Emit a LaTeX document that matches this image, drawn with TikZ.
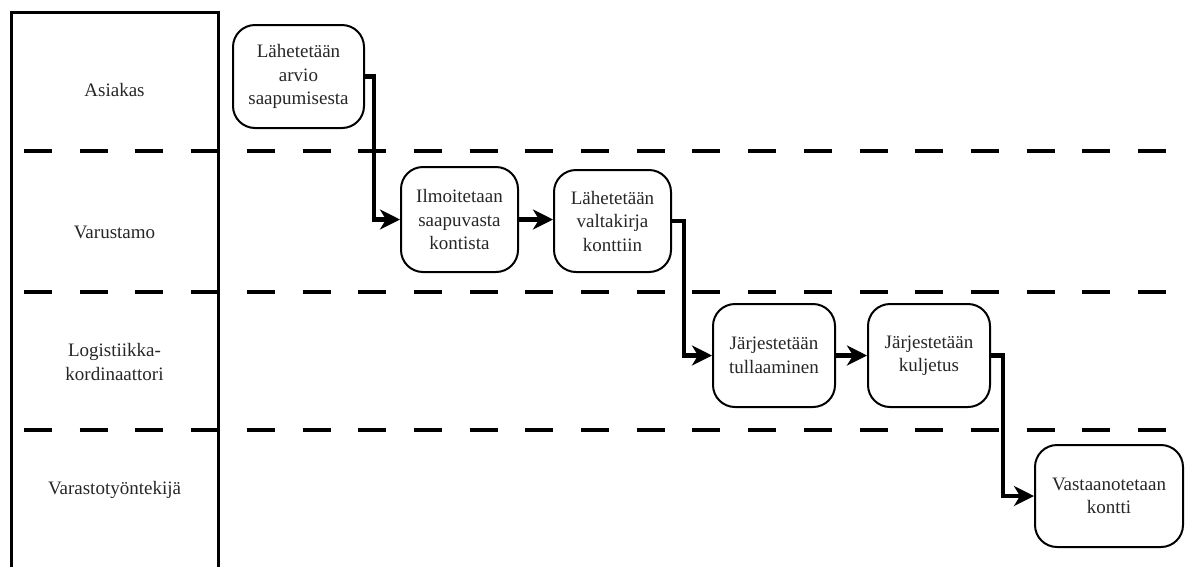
\documentclass[tikz,border=0pt]{standalone}
\usepackage{fontspec}
\setmainfont{Liberation Serif}
\newfontfamily\diagfont{Liberation Serif}
\usetikzlibrary{arrows.meta}
\begin{document}
\begin{tikzpicture}[x=1pt,y=-1pt,
  every node/.style={font=\diagfont\fontsize{19}{23.5}\selectfont, align=center, text=black!85},
  task/.style={draw, line width=2pt, rounded corners=22pt, inner sep=0pt},
  lane/.style={inner sep=0pt},
  divider/.style={line width=4pt, dash pattern=on 28pt off 27.7pt},
  flow/.style={line width=4.5pt, -{Stealth[length=20pt,width=20pt,inset=6pt]}}]
\useasboundingbox (0,0) rectangle (1186,566);

% lane header column, open at the bottom
\draw[line width=3pt] (11,570) -- (11,12) -- (218,12) -- (218,570);

% lane separators
\foreach \yy in {151,292,430}
  \draw[divider] (24,\yy) -- (1167,\yy);

% lane names
\node[lane] (l1) at (114.5,90)  {Asiakas};
\node[lane] (l2) at (114.5,232) {Varustamo};
\node[lane] (l3) at (114.5,362) {Logistiikka-\\kordinaattori};
\node[lane] (l4) at (114.5,490) {Varastotyöntekijä};

% process steps
\node[task, minimum width=131pt, minimum height=103pt] (b1) at (298.5,76.5) {Lähetetään\\arvio\\saapumisesta};
\node[task, minimum width=117pt, minimum height=105pt] (b2) at (459.5,219.5) {Ilmoitetaan\\saapuvasta\\kontista};
\node[task, minimum width=117pt, minimum height=102pt] (b3) at (612.5,221) {Lähetetään\\valtakirja\\konttiin};
\node[task, minimum width=122pt, minimum height=103pt] (b4) at (774,355.5) {Järjestetään\\tullaaminen};
\node[task, minimum width=122pt, minimum height=103pt] (b5) at (929,355.5) {Järjestetään\\kuljetus};
\node[task, minimum width=148pt, minimum height=102pt] (b6) at (1109,496) {Vastaanotetaan\\kontti};

% flow between steps
\draw[flow] (b1.east) -- ++(9,0) |- (b2.west);
\draw[flow] (b2.east) -- (b3.west |- b2.east);
\draw[flow] (b3.east) -- ++(12,0) |- (b4.west);
\draw[flow] (b4.east) -- (b5.west);
\draw[flow] (b5.east) -- ++(12,0) |- (b6.west);
\end{tikzpicture}
\end{document}
